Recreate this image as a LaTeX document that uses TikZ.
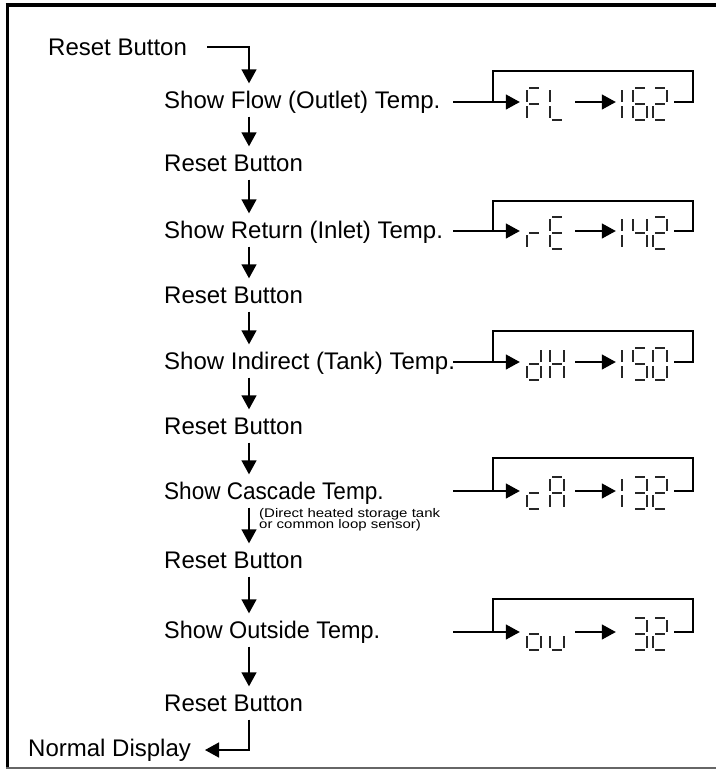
\documentclass[tikz,border=0pt]{standalone}
\usepackage{fontspec}
\setmainfont{Liberation Sans}
\usetikzlibrary{arrows.meta}
\newcommand\segdigit[3]{%
  \begin{scope}[shift={(#1,#2)}]
  \foreach \s in {#3}{%
    \if a\s \draw[seg] (2,0)--(12,0);\fi
    \if b\s \draw[seg] (14,2)--(14,14);\fi
    \if c\s \draw[seg] (14,18)--(14,30);\fi
    \if d\s \draw[seg] (2,32)--(12,32);\fi
    \if e\s \draw[seg] (0,18)--(0,30);\fi
    \if f\s \draw[seg] (0,2)--(0,14);\fi
    \if g\s \draw[seg] (2,16)--(12,16);\fi
  }
  \end{scope}}
\begin{document}
\begin{tikzpicture}[x=1pt,y=-1pt,
  lbl/.style={font=\fontsize{24}{28}\selectfont, anchor=west, inner sep=0pt,
              text height=16.5pt, text depth=0pt, minimum height=33pt},
  arr/.style={line width=1.4pt, -{Triangle[length=14pt,width=15pt]}},
  wire/.style={line width=1.4pt},
  seg/.style={line width=1.3pt, line cap=butt, draw=black!85},
  lcd/.style={inner sep=0pt, minimum height=34pt}]
\useasboundingbox (0,0) rectangle (716,769);
\fill[white] (0,0) rectangle (716,769);
% frame
\draw[line width=4pt] (5.5,4.7) -- (716,4.7);
\draw[line width=3.4pt] (7.7,3) -- (7.7,768);
\draw[line width=1.5pt, black!60] (6,768.2) -- (716,768.2);

\coordinate (col) at (249,0);
% main column
\node[lbl] (r0) at (48,47) {Reset Button};
\node[lbl] (t1) at (164,100) {Show Flow (Outlet) Temp.};
\node[lbl] (r1) at (164,163) {Reset Button};
\node[lbl] (t2) at (164,230) {Show Return (Inlet) Temp.};
\node[lbl] (r2) at (164,295) {Reset Button};
\node[lbl] (t3) at (164,361) {Show Indirect (Tank) Temp.};
\node[lbl] (r3) at (164,426) {Reset Button};
\node[lbl] (t4) at (164,491) {\scalebox{0.94}[1]{Show Cascade Temp.}};
\node[anchor=north west, inner sep=0pt, align=left,
      font={\fontsize{12.5}{11}\selectfont\lineskiplimit=-20pt}] (note) at (259,508)
  {\scalebox{1.2}[1]{(Direct heated storage tank}\\\scalebox{1.2}[1]{or common loop sensor)}};
\node[lbl] (r4) at (164,560) {Reset Button};
\node[lbl] (t5) at (164,630) {\scalebox{0.975}[1]{Show Outside Temp.}};
\node[lbl] (r5) at (164,703) {Reset Button};
\node[lbl] (nd) at (28,748) {Normal Display};

\coordinate (r0out) at (207,47);
\coordinate (ndin) at (205,750);
\draw[arr] (r0out) -| (t1.north -| col);
\foreach \a/\b in {t1/r1,r1/t2,t2/r2,r2/t3,t3/r3,r3/t4,t4/r4,r4/t5,t5/r5}
  \draw[arr] (\a.south -| col) -- (\b.north -| col);
\draw[arr] (r5.south -| col) |- (ndin);

% displays
\foreach \k/\L/\T in {1/102/71, 2/231/201, 3/362/331, 4/491/458, 5/632/599}{
  \coordinate (in\k) at (453,\L);
  \coordinate (j\k) at (493,\L);
  \coordinate (tl\k) at (493,\T);
  \coordinate (tr\k) at (693,\T);
  \coordinate (br\k) at (693,\L);
  \node[lcd, minimum width=55pt] (lt\k) at (547.5,\L) {};
  \node[lcd, minimum width=58pt] (nm\k) at (645,\L) {};
  \draw[arr] (in\k) -- (lt\k.west);
  \draw[arr] (lt\k.east) -- (nm\k.west);
  \draw[wire] (nm\k.east) -- (br\k) -- (tr\k) -- (tl\k) -- (j\k);
}
% row 1: FL 162
\segdigit{527}{88}{a,e,f,g}
\segdigit{550}{88}{d,e,f}
\segdigit{608}{88}{b,c}
\segdigit{633}{88}{a,c,d,e,f,g}
\segdigit{653}{88}{a,b,d,e,g}
% row 2: rE 142
\segdigit{527}{217}{e,g}
\segdigit{550}{217}{a,d,e,f,g}
\segdigit{608}{217}{b,c}
\segdigit{633}{217}{b,c,f,g}
\segdigit{653}{217}{a,b,d,e,g}
% row 3: dH 150
\segdigit{527}{348}{b,c,d,e,g}
\segdigit{550}{348}{b,c,e,f,g}
\segdigit{608}{348}{b,c}
\segdigit{633}{348}{a,c,d,f,g}
\segdigit{653}{348}{a,b,c,d,e,f}
% row 4: cA 132
\segdigit{527}{477}{d,e,g}
\segdigit{550}{477}{a,b,c,e,f,g}
\segdigit{608}{477}{b,c}
\segdigit{633}{477}{a,b,c,d,g}
\segdigit{653}{477}{a,b,d,e,g}
% row 5: ou 32
\segdigit{527}{618}{c,d,e,g}
\segdigit{550}{618}{c,d,e}
\segdigit{633}{618}{a,b,c,d,g}
\segdigit{653}{618}{a,b,d,e,g}
\end{tikzpicture}
\end{document}
